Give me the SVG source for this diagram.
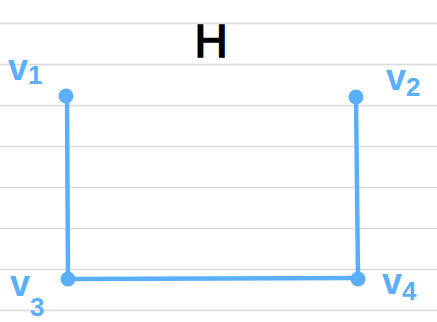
<svg xmlns="http://www.w3.org/2000/svg" width="437" height="322" viewBox="0 0 437 322">
<style>
.rule{stroke:#d9d9d9;stroke-width:1.5}
.edge{stroke:#5aaff8;stroke-width:4.5;stroke-linecap:round;fill:none}
.dot{fill:#5aaff8}
.lbl{font-family:"Liberation Sans",Arial,sans-serif;font-weight:bold;fill:#5aaff8;font-size:36px}
.sub{font-size:26px}
.title{font-family:"Liberation Sans",Arial,sans-serif;fill:#000;stroke:#000;stroke-width:1.5;font-size:46px}
</style>
<rect width="437" height="322" fill="#fff"/>
<g id="ruling">
<line class="rule" x1="0" y1="23.5" x2="437" y2="23.5"/>
<line class="rule" x1="0" y1="64.5" x2="437" y2="64.5"/>
<line class="rule" x1="0" y1="105.5" x2="437" y2="105.5"/>
<line class="rule" x1="0" y1="146.5" x2="437" y2="146.5"/>
<line class="rule" x1="0" y1="187.5" x2="437" y2="187.5"/>
<line class="rule" x1="0" y1="228.5" x2="437" y2="228.5"/>
<line class="rule" x1="0" y1="269.5" x2="437" y2="269.5"/>
<line class="rule" x1="0" y1="310.5" x2="437" y2="310.5"/>
</g>
<text id="title" class="title" x="211" y="57" text-anchor="middle">H</text>
<g id="edges">
<line class="edge" x1="67" y1="96" x2="68" y2="279"/>
<line class="edge" x1="356" y1="97" x2="358" y2="278"/>
<line class="edge" x1="68" y1="279" x2="358" y2="278"/>
</g>
<g id="v1"><circle class="dot" cx="66" cy="96" r="7.5"/><text class="lbl" x="8" y="80">v<tspan class="sub" dy="4">1</tspan></text></g>
<g id="v2"><circle class="dot" cx="356" cy="97" r="7.5"/><text class="lbl" x="386" y="90">v<tspan class="sub" dy="6">2</tspan></text></g>
<g id="v3"><circle class="dot" cx="68" cy="279" r="7.5"/><text class="lbl" x="10" y="296">v<tspan class="sub" dy="20">3</tspan></text></g>
<g id="v4"><circle class="dot" cx="358" cy="279" r="7.5"/><text class="lbl" x="382" y="294">v<tspan class="sub" dy="6">4</tspan></text></g>
</svg>
